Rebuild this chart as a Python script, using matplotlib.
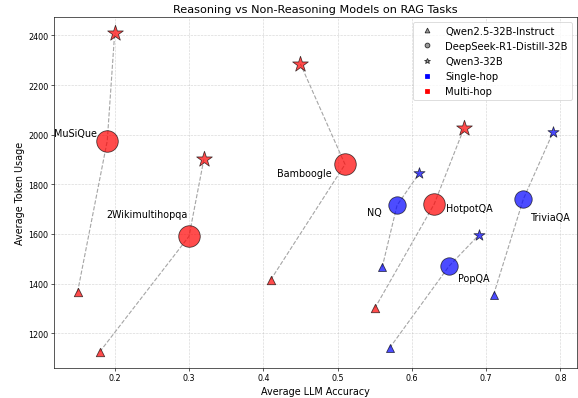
import matplotlib
matplotlib.use('Agg')
import matplotlib.pyplot as plt
from matplotlib.lines import Line2D

# datasets and hop type
datasets = ['NQ', 'TriviaQA', 'PopQA', 'HotpotQA', '2Wikimultihopqa', 'MuSiQue', 'Bamboogle']
hop_type = ['single', 'single', 'single', 'multi', 'multi', 'multi', 'multi']

# Qwen2.5-32B-Instruct
qwen25_acc = [0.56, 0.71, 0.57, 0.55, 0.18, 0.15, 0.41]
qwen25_tok = [1465, 1355, 1140, 1300, 1125, 1365, 1415]

# DeepSeek-R1-Distill-32B
r1_acc = [0.58, 0.75, 0.65, 0.63, 0.30, 0.19, 0.51]
r1_tok = [1715, 1740, 1470, 1720, 1590, 1975, 1880]

# Qwen3-32B
qwen3_acc = [0.61, 0.79, 0.69, 0.67, 0.32, 0.20, 0.45]
qwen3_tok = [1845, 2010, 1595, 2025, 1900, 2410, 2285]

colors = {'single': 'blue', 'multi': 'red'}
# marker size per model / hop type
sizes = {
    'single': {'^': 100, 'o': 470, '*': 210},
    'multi': {'^': 110, 'o': 720, '*': 420},
}
# label placement (offset pixels, alignment)
label_pos = {
    'MuSiQue': (-10, 8, 'right'),
    '2Wikimultihopqa': (-1, 22, 'right'),
    'Bamboogle': (-13, -9, 'right'),
    'NQ': (-15, -7, 'right'),
    'HotpotQA': (12, -4, 'left'),
    'TriviaQA': (8, -18, 'left'),
    'PopQA': (9, -12, 'left'),
}

fig, ax = plt.subplots(figsize=(10, 6.903), dpi=57.8)

for i, name in enumerate(datasets):
    c = colors[hop_type[i]]
    xs = [qwen25_acc[i], r1_acc[i], qwen3_acc[i]]
    ys = [qwen25_tok[i], r1_tok[i], qwen3_tok[i]]
    ax.plot(xs, ys, linestyle='--', color='gray', alpha=0.7, linewidth=1.4, zorder=1)
    for m, x, y in zip(['^', 'o', '*'], xs, ys):
        ax.scatter(x, y, marker=m, s=sizes[hop_type[i]][m], color=c, alpha=0.7,
                   edgecolors='black', linewidths=1, zorder=3)
    dx, dy, ha = label_pos[name]
    ax.annotate(name, (r1_acc[i], r1_tok[i]), xytext=(dx, dy), textcoords='offset pixels',
                ha=ha, va='center', fontsize=12)

handles = [
    Line2D([], [], marker='^', color='gray', markeredgecolor='black', linestyle='None', markersize=6, alpha=0.8),
    Line2D([], [], marker='o', color='gray', markeredgecolor='black', linestyle='None', markersize=6, alpha=0.8),
    Line2D([], [], marker='*', color='gray', markeredgecolor='black', linestyle='None', markersize=7, alpha=0.8),
    Line2D([], [], marker='s', color='blue', linestyle='None', markersize=5),
    Line2D([], [], marker='s', color='red', linestyle='None', markersize=5),
]
labels = ['Qwen2.5-32B-Instruct', 'DeepSeek-R1-Distill-32B', 'Qwen3-32B', 'Single-hop', 'Multi-hop']
ax.legend(handles, labels, loc='upper right', fontsize=12.5)

ax.set_title('Reasoning vs Non-Reasoning Models on RAG Tasks', fontsize=14)
ax.set_xlabel('Average LLM Accuracy', fontsize=12)
ax.set_ylabel('Average Token Usage', fontsize=12)
ax.tick_params(labelsize=10)
ax.grid(True, linestyle='--', alpha=0.5)

plt.subplots_adjust(left=0.093, right=0.998, top=0.955, bottom=0.076)
plt.savefig('out.png')
